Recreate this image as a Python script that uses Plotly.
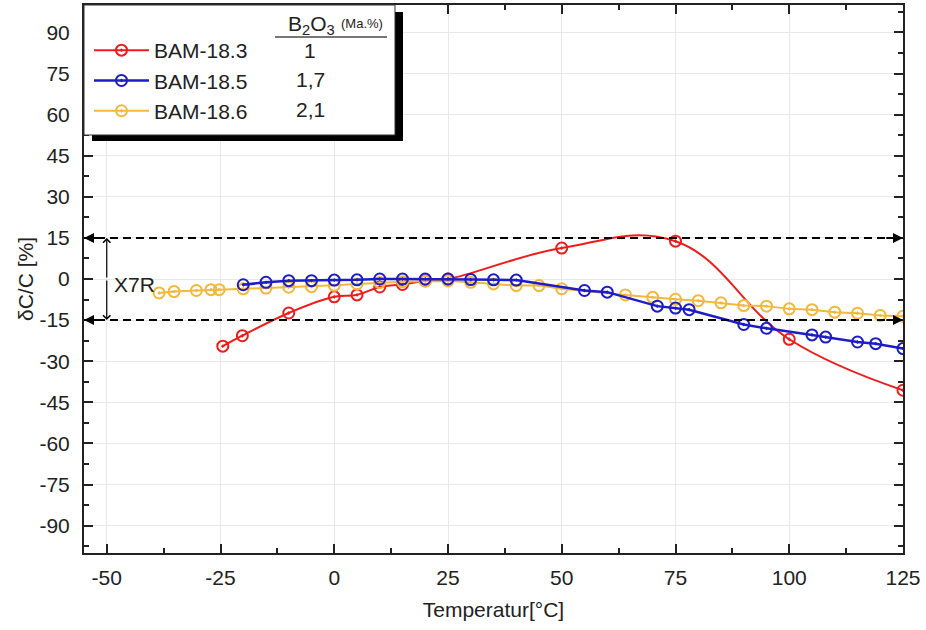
import plotly.graph_objects as go

# ---- data ----
red_name = "BAM-18.3"
red_x = [-24.5, -20.2, -10, 0, 5, 10, 15, 20, 25, 50, 75, 100, 125]
red_y = [-24.5, -20.7, -12.4, -6.5, -5.8, -2.9, -2.0, -0.6, 0.0, 11.3, 13.8, -22.0, -40.6]

blue_name = "BAM-18.5"
blue_x = [-20, -15, -10, -5, 0, 5, 10, 15, 20, 25, 30, 35, 40, 55, 60, 71, 75, 78,
          90, 95, 105, 108, 115, 119, 125]
blue_y = [-2.1, -1.2, -0.6, -0.6, -0.4, -0.3, 0.0, 0.0, 0.0, 0.0, -0.2, -0.3, -0.4,
          -4.2, -4.8, -9.9, -10.6, -11.2, -16.6, -18.0, -20.4, -21.2, -23.0, -23.6, -25.4]

yellow_name = "BAM-18.6"
yellow_x = [-38.5, -35.2, -30.3, -27.1, -25.3, -20, -15, -10, -5, 0, 5, 10, 15, 20, 25,
            30, 35, 40, 45, 50, 64, 70, 75, 80, 85, 90, 95, 100, 105, 110, 115, 120, 125]
yellow_y = [-5.1, -4.6, -4.2, -3.9, -3.9, -3.6, -3.3, -3.0, -2.8, -2.3, -1.8, -1.3, -1.0,
            -0.8, -0.7, -1.2, -1.8, -2.4, -2.4, -3.6, -5.8, -6.7, -7.4, -7.9, -8.7, -9.7,
            -9.9, -10.9, -11.2, -12.1, -12.5, -13.3, -13.6]

b2o3_values = ["1", "1,7", "2,1"]
limits = [15, -15]

x_ticks = [-50, -25, 0, 25, 50, 75, 100, 125]
x_ticktext = ["-50", "-25", "0", "25", "50", "75", "100", "125"]
y_ticks = list(range(-90, 91, 15))
y_ticktext = [str(v) for v in y_ticks]

RED = "#f01c1c"
BLUE = "#1c1cc8"
YELLOW = "#f3b83c"
FONT = "Liberation Sans, Arial, sans-serif"
TXT = "#222"

fig = go.Figure()

def add_series(x, y, name, color, width, shape, rank):
    fig.add_trace(go.Scatter(
        x=x, y=y, name=name, mode="lines+markers", legendrank=rank,
        line=dict(color=color, width=width, shape=shape, smoothing=1.15),
        marker=dict(symbol="circle-open-dot", size=11, color=color,
                    line=dict(width=2, color=color)),
    ))

add_series(red_x, red_y, red_name, RED, 2, "spline", 1)
add_series(yellow_x, yellow_y, yellow_name, YELLOW, 2, "linear", 3)
add_series(blue_x, blue_y, blue_name, BLUE, 2.5, "linear", 2)

# dashed X7R limit lines with arrows at both ends
for lv in limits:
    fig.add_shape(type="line", xref="x", yref="y", x0=-55, x1=125, y0=lv, y1=lv,
                  line=dict(color="black", width=2, dash="8px,5px"), layer="above")
    fig.add_annotation(x=-55, y=lv, ax=-51, ay=lv, xref="x", yref="y", axref="x", ayref="y",
                       showarrow=True, arrowhead=2, arrowsize=1, arrowwidth=2,
                       arrowcolor="black", text="")
    fig.add_annotation(x=125, y=lv, ax=121, ay=lv, xref="x", yref="y", axref="x", ayref="y",
                       showarrow=True, arrowhead=2, arrowsize=1, arrowwidth=2,
                       arrowcolor="black", text="")
    # vertical double arrow
    fig.add_annotation(x=-50, y=lv, ax=-50, ay=0, xref="x", yref="y", axref="x", ayref="y",
                       showarrow=True, arrowhead=4, arrowsize=1.2, arrowwidth=1.2,
                       arrowcolor="black", text="")

fig.add_annotation(x=-44, y=-2, xref="x", yref="y", text="X7R", showarrow=False,
                   xanchor="center", yanchor="middle",
                   font=dict(family=FONT, size=21, color=TXT))

# legend box with shadow (pixel helpers relative to the plot area)
pw, ph = 819.0, 548.0
def px_x(p):
    return (p - 84) / pw
def px_y(p):
    return (553 - p) / ph

fig.add_shape(type="rect", xref="paper", yref="paper",
              x0=px_x(92), x1=px_x(403), y0=px_y(141), y1=px_y(12),
              fillcolor="black", line=dict(width=0), layer="above")
fig.add_shape(type="rect", xref="paper", yref="paper",
              x0=px_x(84), x1=px_x(395), y0=px_y(135), y1=px_y(5),
              fillcolor="white", line=dict(color="#333", width=1), layer="above")

# column header and values
fig.add_annotation(xref="paper", yref="paper", x=px_x(286), y=px_y(24.5),
                   xanchor="left", yanchor="middle",
                   showarrow=False, text="B<sub>2</sub>O<sub>3</sub>",
                   font=dict(family=FONT, size=21, color=TXT))
fig.add_annotation(xref="paper", yref="paper", x=px_x(339), y=px_y(24), xanchor="left",
                   yanchor="middle", showarrow=False, text="(Ma.%)",
                   font=dict(family=FONT, size=13, color=TXT))
fig.add_shape(type="line", xref="paper", yref="paper", x0=px_x(275), x1=px_x(387),
              y0=px_y(37), y1=px_y(37), line=dict(color="#777", width=2), layer="above")
for i, v in enumerate(b2o3_values):
    fig.add_annotation(xref="paper", yref="paper", x=px_x(310), y=px_y(51 + 29 * i),
                       xanchor="center", yanchor="middle",
                       showarrow=False, text=v,
                       font=dict(family=FONT, size=21, color=TXT))

axis_common = dict(
    showline=True, linecolor=TXT, linewidth=2, mirror="ticks",
    ticks="inside", ticklen=9, tickwidth=2, tickcolor=TXT,
    showgrid=True, gridcolor="#e8e8e8", gridwidth=1, zeroline=False,
    tickfont=dict(family=FONT, size=21, color=TXT), automargin=False,
)

fig.update_layout(
    width=926, height=630,
    margin=dict(l=84, r=23, t=5, b=77, autoexpand=False),
    paper_bgcolor="white", plot_bgcolor="white",
    font=dict(family=FONT, color=TXT),
    showlegend=True,
    legend=dict(x=px_x(89), y=px_y(30), xanchor="left", yanchor="top",
                bgcolor="rgba(0,0,0,0)", borderwidth=0,
                font=dict(family=FONT, size=21, color=TXT),
                itemwidth=55, tracegroupgap=0),
    xaxis=dict(range=[-55, 125], tickvals=x_ticks, ticktext=x_ticktext,
               ticklabelstandoff=5,
               minor=dict(dtick=12.5, tick0=0, ticks="inside", ticklen=5, tickwidth=2,
                          tickcolor=TXT, showgrid=False),
               title=dict(text="Temperatur[°C]", font=dict(family=FONT, size=21, color=TXT),
                          standoff=14),
               **axis_common),
    yaxis=dict(range=[-100, 100], tickvals=y_ticks, ticktext=y_ticktext,
               ticklabelstandoff=8,
               minor=dict(dtick=7.5, tick0=0, ticks="inside", ticklen=5, tickwidth=2,
                          tickcolor=TXT, showgrid=False),
               title=dict(text="δC/C [%]", font=dict(family=FONT, size=21, color=TXT),
                          standoff=0),
               **axis_common),
)

fig.write_html("out.html", config={"displayModeBar": False},
               post_script="document.body.style.margin='0px';")
